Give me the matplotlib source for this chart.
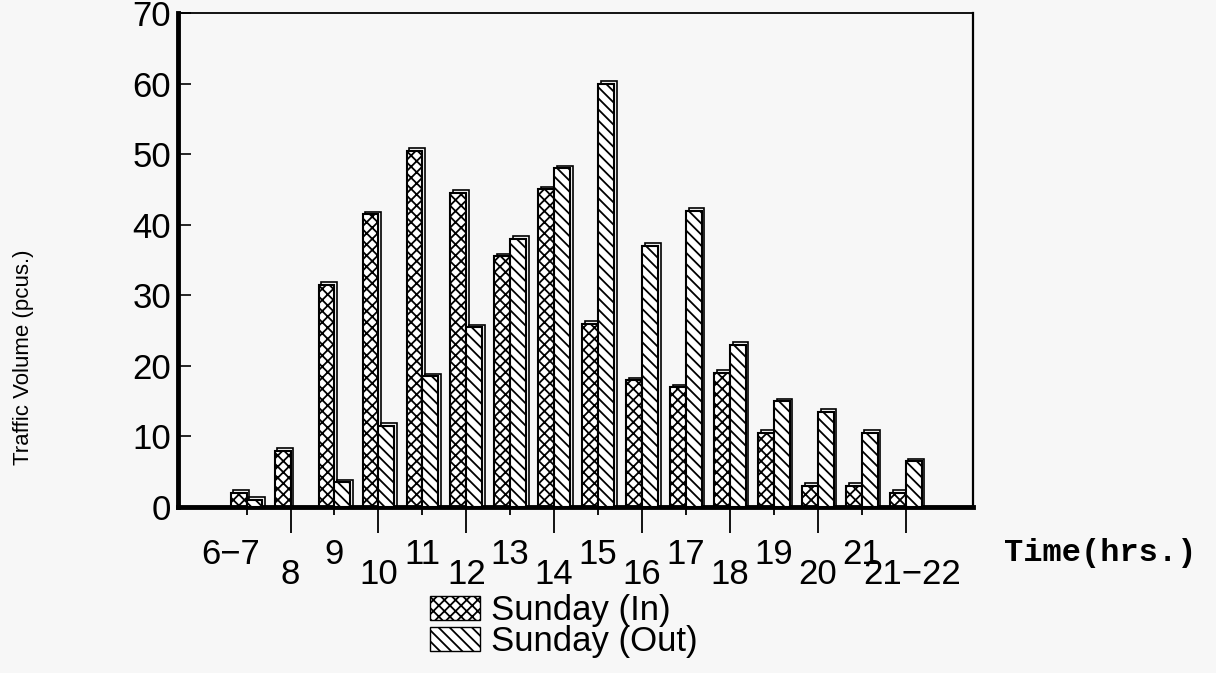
import numpy as np
import matplotlib.pyplot as plt
import matplotlib.transforms as mtransforms
from matplotlib.patches import Patch

hours = ['6\u22127', '8', '9', '10', '11', '12', '13', '14', '15', '16',
         '17', '18', '19', '20', '21', '21\u221222']
sunday_in = [2, 8, 31.5, 41.5, 50.5, 44.5, 35.5, 45, 26, 18, 17, 19, 10.5, 3, 3, 2]
sunday_out = [1, 0, 3.5, 11.5, 18.5, 25.5, 38, 48, 60, 37, 42, 23, 15, 13.5, 10.5, 6.5]

plt.rcParams['hatch.linewidth'] = 1.3
sans = ['Liberation Sans', 'DejaVu Sans']

fig = plt.figure(figsize=(12.16, 6.73), dpi=100, facecolor='#f7f7f7')
ax = fig.add_axes([178/1216, 1-507/673, (973-178)/1216, (507-13)/673])
ax.set_facecolor('#f7f7f7')

x = np.arange(len(hours))
w = 0.36
# fake 3d depth behind each bar
for vals, off in [(sunday_in, -w/2), (sunday_out, w/2)]:
    h = np.array(vals)
    m = h > 0
    ax.bar(x[m] + off + 0.06, h[m] + 0.35, width=w, color='#f7f7f7',
           edgecolor='black', linewidth=1.2, zorder=1)
ax.bar(x - w/2, sunday_in, width=w, color='white', edgecolor='black',
       hatch='xxx', linewidth=1.5, zorder=2)
ax.bar(x + w/2, sunday_out, width=w, color='white', edgecolor='black',
       hatch='\\\\\\', linewidth=1.5, zorder=3)

ax.set_xlim(-1.56, 16.53)
ax.set_ylim(0, 70)

ax.set_yticks(range(0, 71, 10))
ax.tick_params(axis='y', direction='in', length=9, width=1.2, pad=5,
               labelsize=25)
for t in ax.get_yticklabels():
    t.set_fontfamily(sans)

ax.set_xticks(x[::2], hours[::2])
ax.set_xticks(x[1::2], hours[1::2], minor=True)
ax.tick_params(axis='x', which='major', direction='out', length=6, width=1.3,
               pad=16, labelsize=25)
ax.tick_params(axis='x', which='minor', direction='out', length=19, width=1.3,
               pad=18, labelsize=25)
for t in ax.get_xticklabels() + ax.get_xticklabels(minor=True):
    t.set_fontfamily(sans)

# end labels sit a little off their ticks in the original
ax.get_xticklabels()[0].set_transform(
    ax.get_xticklabels()[0].get_transform()
    + mtransforms.ScaledTranslation(-16/100, 0, fig.dpi_scale_trans))
ax.get_xticklabels(minor=True)[-1].set_transform(
    ax.get_xticklabels(minor=True)[-1].get_transform()
    + mtransforms.ScaledTranslation(6/100, 0, fig.dpi_scale_trans))

ax.spines['left'].set_linewidth(3.5)
ax.spines['bottom'].set_linewidth(3.5)
ax.spines['top'].set_linewidth(1.3)
ax.spines['right'].set_linewidth(1.6)

fig.text(24/1216, 1-357/673, 'Traffic Volume (pcus.)', rotation=90,
         ha='center', va='center', fontsize=16,
         family=['Liberation Sans Narrow', 'Liberation Sans', 'DejaVu Sans'])
fig.text(1100/1216, 1-553/673, 'Time(hrs.)', ha='center', va='center',
         fontsize=23, fontweight='bold',
         family=['Liberation Mono', 'DejaVu Sans Mono'])

handles = [Patch(facecolor='white', edgecolor='black', hatch='xxx', label='Sunday (In)'),
           Patch(facecolor='white', edgecolor='black', hatch='\\\\\\', label='Sunday (Out)')]
fig.legend(handles=handles, loc='upper left',
           bbox_to_anchor=(430/1216, 1-594/673), frameon=False,
           prop={'family': sans, 'size': 25},
           handlelength=1.45, handleheight=0.7, handletextpad=0.3,
           labelspacing=-0.05, borderpad=0, borderaxespad=0)

fig.savefig('out.png', dpi=100, facecolor=fig.get_facecolor())
